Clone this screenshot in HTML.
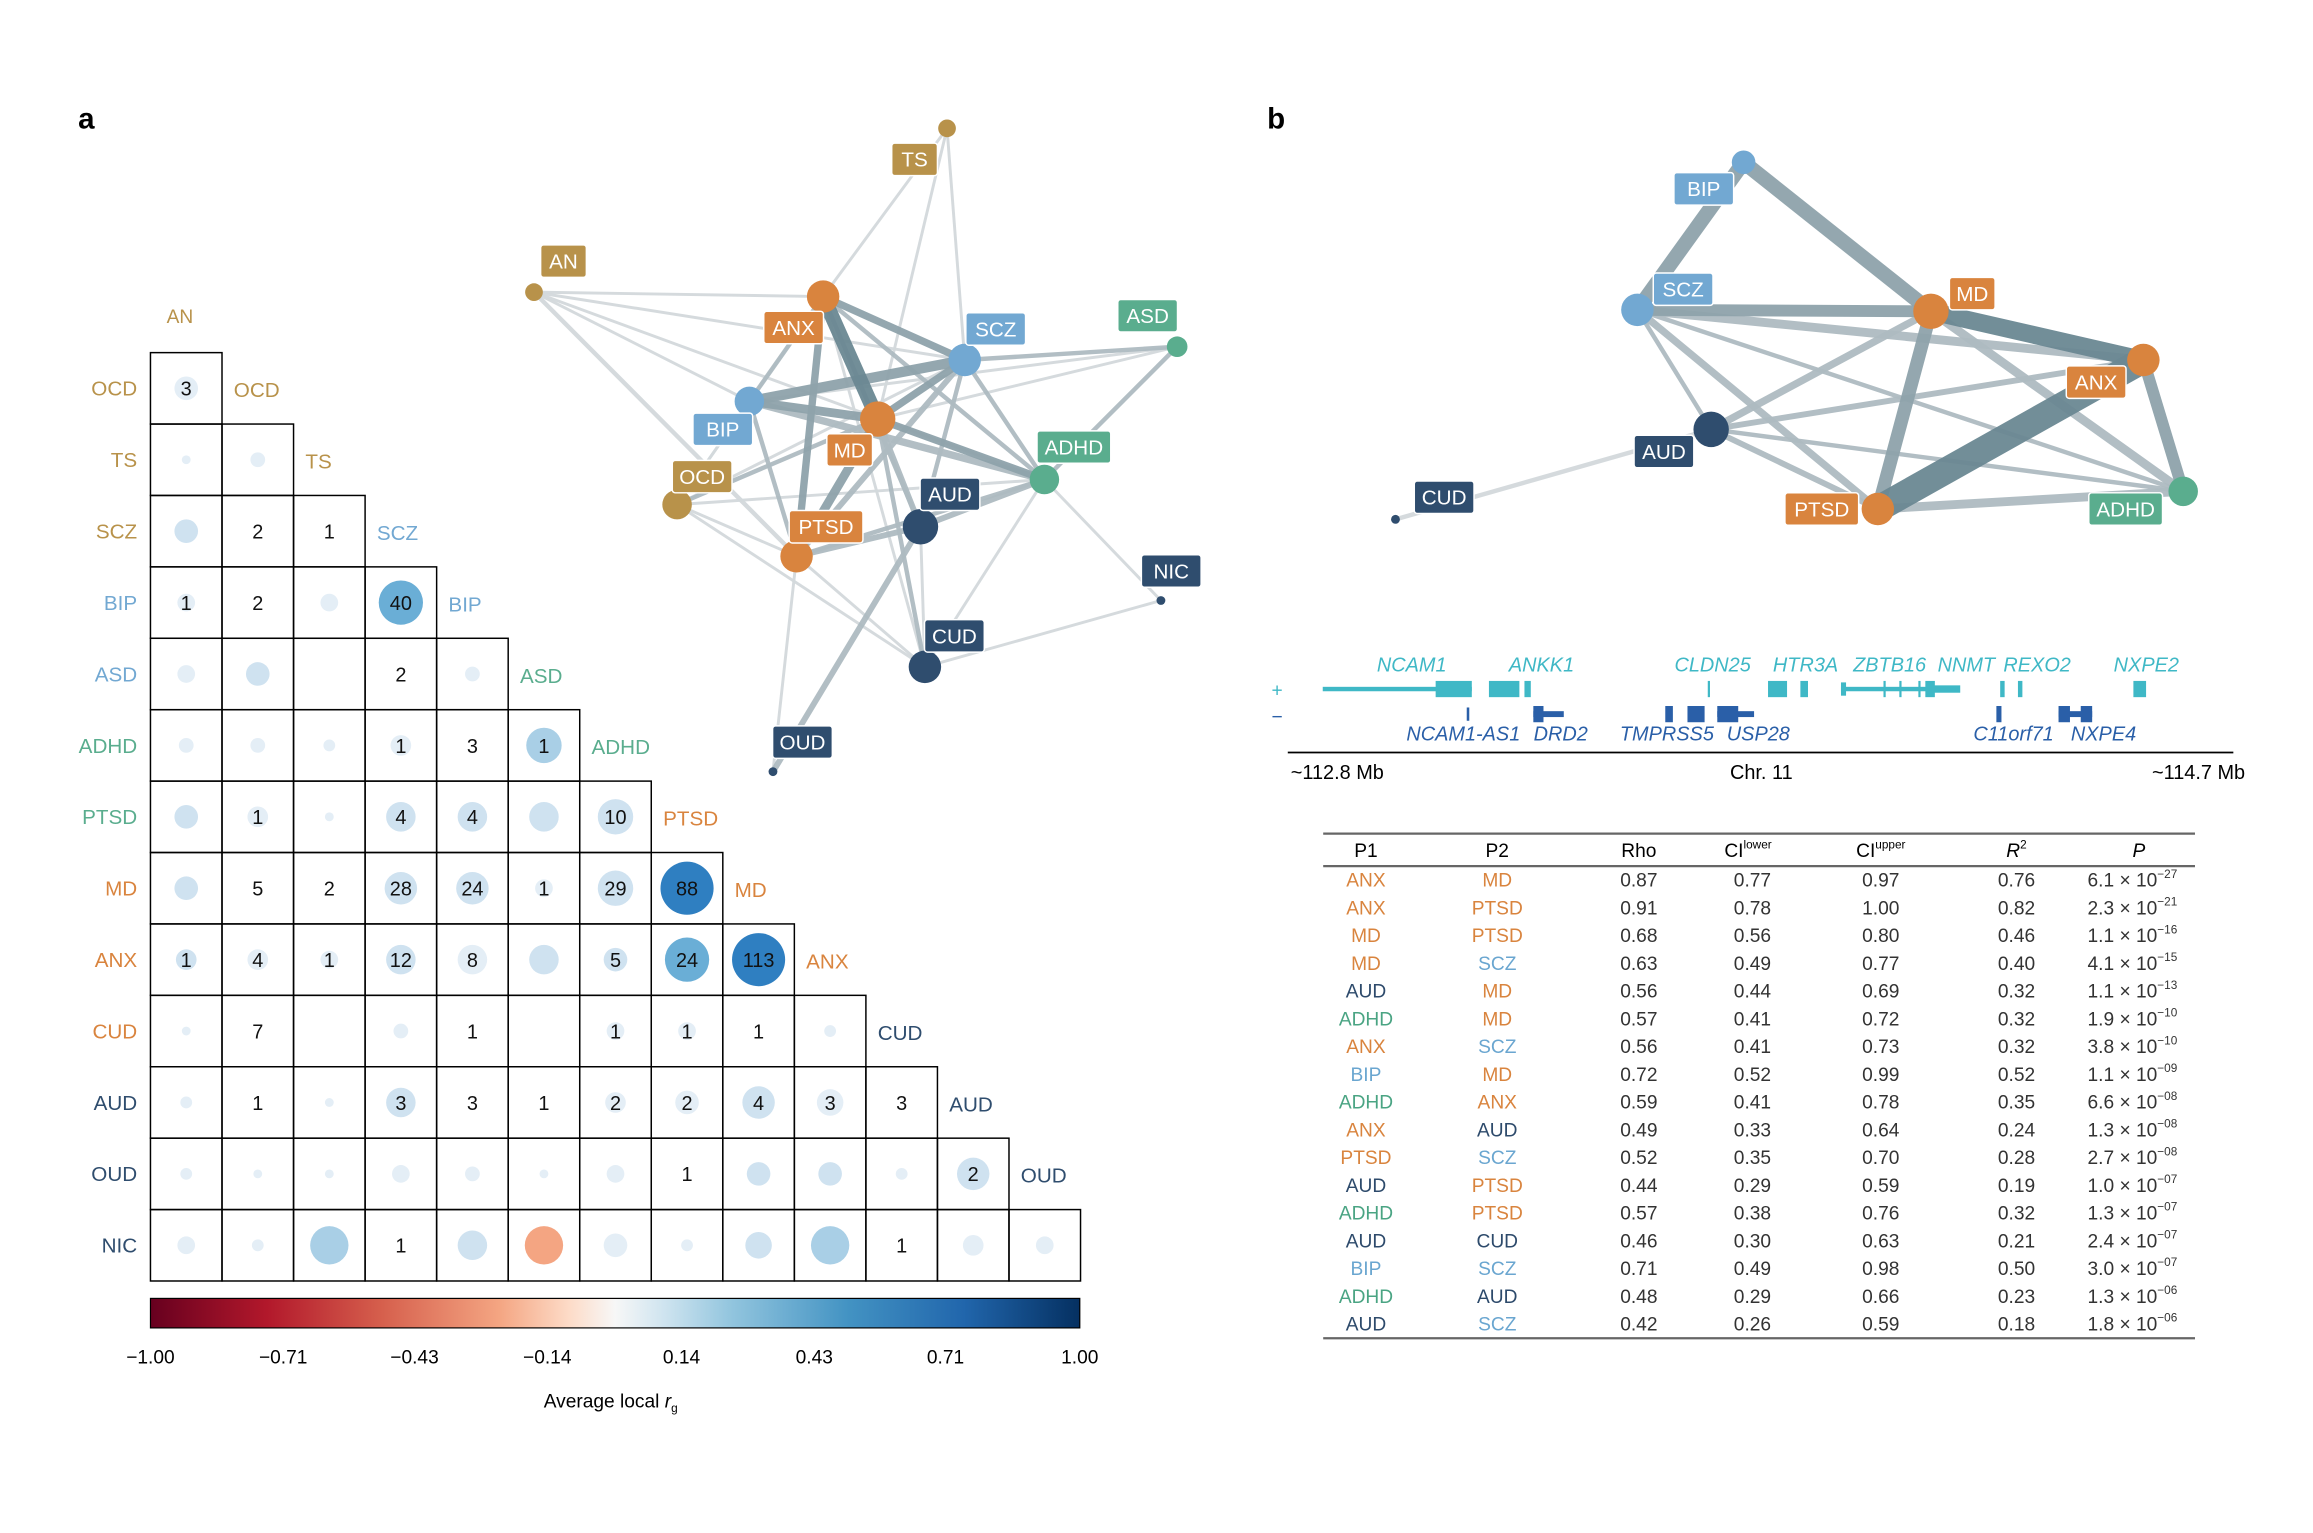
<!DOCTYPE html>
<html><head><meta charset="utf-8"><style>
html,body{margin:0;padding:0;background:#fff;}
svg{display:block;font-family:"Liberation Sans",Arial,sans-serif;}
</style></head><body>
<svg id="s" width="2313" height="1533" viewBox="0 0 1568 1039" preserveAspectRatio="none" xmlns="http://www.w3.org/2000/svg">
<defs>
<linearGradient id="cb" x1="0" x2="1" y1="0" y2="0">
<stop offset="0" stop-color="#67001f"/><stop offset="0.125" stop-color="#b2182b"/><stop offset="0.25" stop-color="#d6604d"/><stop offset="0.375" stop-color="#f4a582"/><stop offset="0.45" stop-color="#fddbc7"/><stop offset="0.5" stop-color="#f7f7f7"/><stop offset="0.55" stop-color="#d1e5f0"/><stop offset="0.625" stop-color="#92c5de"/><stop offset="0.75" stop-color="#4393c3"/><stop offset="0.875" stop-color="#2166ac"/><stop offset="1" stop-color="#053061"/>
</linearGradient>
</defs>
<rect width="1568" height="1039" fill="#fff"/>
<text x="53" y="87" font-size="20" font-weight="bold">a</text>
<text x="859" y="87" font-size="20" font-weight="bold">b</text>
<g id="net"></g>
<g id="mat"></g>
<rect x="102" y="880" width="630" height="20" fill="url(#cb)" stroke="#000" stroke-width="0.8"/>
<g font-size="13" text-anchor="middle">
<text x="102" y="924">−1.00</text><text x="192" y="924">−0.71</text><text x="281" y="924">−0.43</text><text x="371" y="924">−0.14</text><text x="462" y="924">0.14</text><text x="552" y="924">0.43</text><text x="641" y="924">0.71</text><text x="732" y="924">1.00</text>
<text x="414" y="954">Average local <tspan font-style="italic">r</tspan><tspan font-size="8" dy="3">g</tspan></text>
</g>
<g id="genes"></g>
<g id="tab"></g>
</svg>
<script>
const NS="http://www.w3.org/2000/svg";
function el(p,t,a,txt){const e=document.createElementNS(NS,t);for(const k in a)e.setAttribute(k,a[k]);if(txt!==undefined)e.textContent=txt;p.appendChild(e);return e;}
const C={g:"#b8924a",o:"#d9843e",b:"#72a8d2",gr:"#5aad8e",d:"#2f4d6e"};
const net=document.getElementById("net");
const A={TS:[642,87,6,"g",620,108],AN:[362,198,6,"g",382,177],ASD:[798,235,7,"gr",778,214],ANX:[558,201,11,"o",538,222],SCZ:[654,244,11,"b",675,223],BIP:[508,272,10,"b",490,291],MD:[595,284,12,"o",576,305],OCD:[459,342,10,"g",476,323],ADHD:[708,325,10,"gr",728,303],AUD:[624,357,12,"d",644,335],PTSD:[540,377,11,"o",560,357],NIC:[787,407,3,"d",794,387],CUD:[627,452,11,"d",647,431],OUD:[524,523,3,"d",544,503]};
const EA=[["ANX","AN",2,0],["ANX","TS",2,0],["ANX","OCD",2,0],["ANX","CUD",2,0],["SCZ","TS",2,0],["TS","MD",2,0],["SCZ","OCD",2,0],["BIP","AN",2,0],["BIP","ASD",2,0],["BIP","OCD",2,0],["PTSD","OCD",2,0],["PTSD","CUD",2,0],["PTSD","OUD",2,0],["ADHD","NIC",2,0],["CUD","NIC",2,0],["ADHD","CUD",2,0],["AN","ADHD",2,0],["AN","PTSD",3,0],["AN","SCZ",2,0],["OCD","ADHD",2,0],["OCD","CUD",2,0],["MD","ASD",2,0],["AUD","CUD",2,0],
["ANX","BIP",3,1],["ANX","AUD",3,1],["ANX","ADHD",3,1],["MD","OCD",3,1],["MD","CUD",3,1],["SCZ","ADHD",3,1],["SCZ","ASD",3,1],["SCZ","AUD",3,1],["BIP","PTSD",3,1],["PTSD","ADHD",3,1],["ADHD","ASD",3,1],["SCZ","PTSD",4,1],["PTSD","AUD",4,1],["AUD","ADHD",4,1],["AUD","OUD",4,1],["MD","AUD",4,1],["BIP","ADHD",5,1],
["ANX","SCZ",5,2],["ANX","PTSD",5,2],["MD","SCZ",5,2],["MD","ADHD",5,2],["MD","BIP",6,2],["MD","PTSD",6,2],["SCZ","BIP",7,2],["ANX","MD",10,3]];
const EC=["#d3d9dc","#aebbc1","#8fa3ab","#6b8893"];
function drawNet(N,E,g){
 for(const[a,b,w,c]of E){el(g,"line",{x1:N[a][0],y1:N[a][1],x2:N[b][0],y2:N[b][1],stroke:EC[c],"stroke-width":w,opacity:0.95});}
 for(const k in N){const n=N[k];el(g,"circle",{cx:n[0],cy:n[1],r:n[2],fill:C[n[3]]});}
 for(const k in N){const n=N[k];const w=k.length*9.5+12;el(g,"rect",{x:n[4]-w/2,y:n[5]-11,width:w,height:22,rx:2,fill:C[n[3]],stroke:"#fff","stroke-width":1});el(g,"text",{x:n[4],y:n[5]+5,"font-size":14,fill:"#fff","text-anchor":"middle"},k);}
}
drawNet(A,EA,net);
const B={BIP:[1182,110,8,"b",1155,128],SCZ:[1110,210,11,"b",1141,196],MD:[1309,211,12,"o",1337,199],ANX:[1453,244,11,"o",1421,259],AUD:[1160,291,12,"d",1128,306],PTSD:[1273,345,11,"o",1235,345],ADHD:[1480,333,10,"gr",1441,345],CUD:[946,352,3,"d",979,337]};
const EB=[["AUD","CUD",3,0],["SCZ","AUD",3,1],["AUD","ADHD",3,1],["SCZ","ADHD",3,1],["AUD","ANX",4,1],["AUD","PTSD",4,1],["SCZ","PTSD",5,1],["AUD","MD",5,1],["SCZ","ANX",6,1],["MD","ADHD",6,1],["PTSD","ADHD",6,1],["ANX","ADHD",8,2],["SCZ","MD",8,2],["MD","PTSD",9,2],["BIP","SCZ",10,2],["BIP","MD",10,2],["MD","ANX",12,3],["PTSD","ANX",18,3]];
drawNet(B,EB,net);
const mat=document.getElementById("mat");
const L=102,T=239,W=48.5,H=48.4;
const F={f:["#e4eef6",0],l:["#cfe2f0",0],m:["#a9cfe6",0],M:["#6aaed6",0],d:["#2f7fc1",0],s:["#f4a582",0]};
const R=[
["OCD","g","OCD","g",[["3",8,"f"]]],
["TS","g","TS","g",[["",3,"f"],["",5,"f"]]],
["SCZ","g","SCZ","b",[["",8,"l"],["2",0],["1",0]]],
["BIP","b","BIP","b",[["1",6,"f"],["2",0],["",6,"f"],["40",15,"M"]]],
["ASD","b","ASD","gr",[["",6,"f"],["",8,"l"],null,["2",0],["",5,"f"]]],
["ADHD","gr","ADHD","gr",[["",5,"f"],["",5,"f"],["",4,"f"],["1",7,"f"],["3",0],["1",12,"m"]]],
["PTSD","gr","PTSD","o",[["",8,"l"],["1",7,"f"],["",3,"f"],["4",10,"l"],["4",10,"l"],["",10,"l"],["10",12,"l"]]],
["MD","o","MD","o",[["",8,"l"],["5",0],["2",0],["28",11,"l"],["24",11,"l"],["1",6,"f"],["29",12,"l"],["88",18,"d"]]],
["ANX","o","ANX","o",[["1",7,"l"],["4",7,"f"],["1",6,"f"],["12",10,"l"],["8",10,"f"],["",10,"l"],["5",8,"l"],["24",15,"M"],["113",18,"d"]]],
["CUD","o","CUD","d",[["",3,"f"],["7",0],null,["",5,"f"],["1",0],null,["1",6,"f"],["1",6,"f"],["1",0],["",4,"f"]]],
["AUD","d","AUD","d",[["",4,"f"],["1",0],["",3,"f"],["3",10,"l"],["3",0],["1",0],["2",7,"f"],["2",8,"f"],["4",11,"l"],["3",9,"f"],["3",0]]],
["OUD","d","OUD","d",[["",4,"f"],["",3,"f"],["",3,"f"],["",6,"f"],["",5,"f"],["",3,"f"],["",6,"f"],["1",0],["",8,"l"],["",8,"l"],["",4,"f"],["2",11,"l"]]],
["NIC","d",null,null,[["",6,"f"],["",4,"f"],["",13,"m"],["1",0],["",10,"l"],["",13,"s"],["",8,"f"],["",4,"f"],["",9,"l"],["",13,"m"],["1",0],["",7,"f"],["",6,"f"]]]
];
el(mat,"text",{x:122,y:219,"font-size":13,fill:C.g,"text-anchor":"middle"},"AN");
R.forEach((row,i)=>{
 const y=T+i*H, cy=y+H/2;
 el(mat,"text",{x:93,y:cy+5,"font-size":14,fill:C[row[1]],"text-anchor":"end"},row[0]);
 row[4].forEach((e,j)=>{
  const x=L+j*W, cx=x+W/2;
  el(mat,"rect",{x:x,y:y,width:W,height:H,fill:"none",stroke:"#000","stroke-width":1});
  if(!e)return;
  if(e[1]>0)el(mat,"circle",{cx:cx,cy:cy,r:e[1],fill:F[e[2]][0]});
  if(e[0])el(mat,"text",{x:cx,y:cy+5,"font-size":13.5,fill:"#111","text-anchor":"middle"},e[0]);
 });
 if(row[2]){const n=row[4].length;el(mat,"text",{x:L+n*W+8,y:cy+6,"font-size":14,fill:C[row[3]]},row[2]);}
});
const g=document.getElementById("genes");
const X=z=>z*0.43+858;
const teal="#3fb8c6",navy="#2a5fa8";
el(g,"text",{x:862,y:472,"font-size":13,fill:teal},"+");
el(g,"text",{x:862,y:490,"font-size":13,fill:navy},"−");
function seg(a,b,y,c,h){el(g,"rect",{x:X(a),y:y-h/2,width:Math.max(X(b)-X(a),1.5),height:h,fill:c});}
const py=467,my=484;
seg(90,325,py,teal,3);seg(268,325,py,teal,11);seg(352,400,py,teal,11);seg(408,418,py,teal,11);seg(697,700,py,teal,11);
seg(792,822,py,teal,11);seg(843,855,py,teal,11);seg(907,1050,py,teal,3);seg(907,915,py,teal,9);seg(974,977,py,teal,11);seg(999,1002,py,teal,11);seg(1029,1032,py,teal,11);seg(1040,1055,py,teal,11);seg(1050,1095,py,teal,5);
seg(1158,1165,py,teal,11);seg(1186,1193,py,teal,11);seg(1368,1388,py,teal,11);
seg(317,321,my,navy,9);seg(422,470,my,navy,4);seg(422,438,my,navy,11);seg(630,642,my,navy,11);seg(665,692,my,navy,11);seg(712,770,my,navy,4);seg(712,745,my,navy,11);seg(1152,1160,my,navy,11);seg(1250,1303,my,navy,4);seg(1250,1268,my,navy,11);seg(1285,1303,my,navy,11);
const gl=[["NCAM1",957,455,teal],["ANKK1",1045,455,teal],["CLDN25",1161,455,teal],["HTR3A",1224,455,teal],["ZBTB16",1281,455,teal],["NNMT",1333,455,teal],["REXO2",1381,455,teal],["NXPE2",1455,455,teal],
["NCAM1-AS1",992,502,navy],["DRD2",1058,502,navy],["TMPRSS5",1130,502,navy],["USP28",1192,502,navy],["C11orf71",1365,502,navy],["NXPE4",1426,502,navy]];
for(const[t,x,y,c]of gl)el(g,"text",{x:x,y:y,"font-size":13.5,"font-style":"italic",fill:c,"text-anchor":"middle"},t);
el(g,"line",{x1:873,y1:510,x2:1514,y2:510,stroke:"#000","stroke-width":1.2});
el(g,"text",{x:875,y:528,"font-size":13.5},"~112.8 Mb");
el(g,"text",{x:1194,y:528,"font-size":13.5,"text-anchor":"middle"},"Chr. 11");
el(g,"text",{x:1522,y:528,"font-size":13.5,"text-anchor":"end"},"~114.7 Mb");
const tb=document.getElementById("tab");
el(tb,"line",{x1:897,y1:565,x2:1488,y2:565,stroke:"#666","stroke-width":1.5});
el(tb,"line",{x1:897,y1:587,x2:1488,y2:587,stroke:"#666","stroke-width":1.5});
el(tb,"line",{x1:897,y1:907,x2:1488,y2:907,stroke:"#666","stroke-width":1.5});
const ht=el(tb,"g",{"font-size":13,"text-anchor":"middle"});
el(ht,"text",{x:926,y:581},"P1");el(ht,"text",{x:1015,y:581},"P2");el(ht,"text",{x:1111,y:581},"Rho");
let t=el(ht,"text",{x:1185,y:581},"CI");el(t,"tspan",{"font-size":8,dy:-6},"lower");
t=el(ht,"text",{x:1275,y:581},"CI");el(t,"tspan",{"font-size":8,dy:-6},"upper");
t=el(ht,"text",{x:1367,y:581,"font-style":"italic"},"R");el(t,"tspan",{"font-size":8,dy:-6,"font-style":"normal"},"2");
el(ht,"text",{x:1450,y:581,"font-style":"italic"},"P");
const tc={ANX:C.o,MD:C.o,PTSD:C.o,AUD:"#2d4a6b",CUD:"#2d4a6b",ADHD:"#4aa483",BIP:"#6aa6d0",SCZ:"#6aa6d0"};
const rows=[["ANX","MD","0.87","0.77","0.97","0.76","6.1","27"],["ANX","PTSD","0.91","0.78","1.00","0.82","2.3","21"],["MD","PTSD","0.68","0.56","0.80","0.46","1.1","16"],["MD","SCZ","0.63","0.49","0.77","0.40","4.1","15"],["AUD","MD","0.56","0.44","0.69","0.32","1.1","13"],["ADHD","MD","0.57","0.41","0.72","0.32","1.9","10"],["ANX","SCZ","0.56","0.41","0.73","0.32","3.8","10"],["BIP","MD","0.72","0.52","0.99","0.52","1.1","09"],["ADHD","ANX","0.59","0.41","0.78","0.35","6.6","08"],["ANX","AUD","0.49","0.33","0.64","0.24","1.3","08"],["PTSD","SCZ","0.52","0.35","0.70","0.28","2.7","08"],["AUD","PTSD","0.44","0.29","0.59","0.19","1.0","07"],["ADHD","PTSD","0.57","0.38","0.76","0.32","1.3","07"],["AUD","CUD","0.46","0.30","0.63","0.21","2.4","07"],["BIP","SCZ","0.71","0.49","0.98","0.50","3.0","07"],["ADHD","AUD","0.48","0.29","0.66","0.23","1.3","06"],["AUD","SCZ","0.42","0.26","0.59","0.18","1.8","06"]];
rows.forEach((r,i)=>{
 const y=601+i*18.8;
 const gg=el(tb,"g",{"font-size":13,"text-anchor":"middle",fill:"#333"});
 el(gg,"text",{x:926,y:y,fill:tc[r[0]]},r[0]);el(gg,"text",{x:1015,y:y,fill:tc[r[1]]},r[1]);
 el(gg,"text",{x:1111,y:y},r[2]);el(gg,"text",{x:1188,y:y},r[3]);el(gg,"text",{x:1275,y:y},r[4]);el(gg,"text",{x:1367,y:y},r[5]);
 const p=el(gg,"text",{x:1476,y:y,"text-anchor":"end"},r[6]+" × 10");el(p,"tspan",{"font-size":8,dy:-6},"−"+r[7]);
});
</script>
</body></html>
